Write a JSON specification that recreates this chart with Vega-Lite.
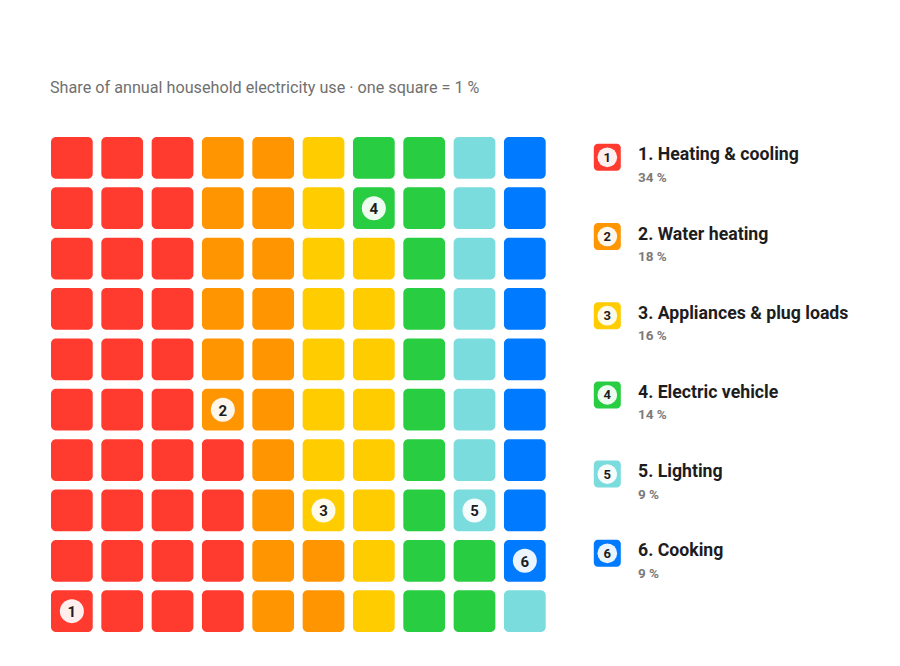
{
  "$schema": "https://vega.github.io/schema/vega-lite/v6.json",
  "width": 830,
  "height": 495,
  "autosize": {"type": "none"},
  "padding": {"left": 51, "top": 137, "right": 19, "bottom": 34},
  "background": "white",
  "title": {
    "text": "Share of annual household electricity use · one square = 1 %",
    "anchor": "start",
    "frame": "group",
    "orient": "top",
    "baseline": "alphabetic",
    "offset": 28,
    "dx": -1,
    "font": "Roboto",
    "fontSize": 16.2,
    "fontWeight": "normal",
    "color": "#707070"
  },
  "datasets": {
    "cells": [
      {"col": 1, "row": 10, "cat": 1, "badge": "1"}, {"col": 1, "row": 9, "cat": 1}, {"col": 1, "row": 8, "cat": 1}, {"col": 1, "row": 7, "cat": 1}, {"col": 1, "row": 6, "cat": 1}, {"col": 1, "row": 5, "cat": 1}, {"col": 1, "row": 4, "cat": 1}, {"col": 1, "row": 3, "cat": 1}, {"col": 1, "row": 2, "cat": 1}, {"col": 1, "row": 1, "cat": 1},
      {"col": 2, "row": 10, "cat": 1}, {"col": 2, "row": 9, "cat": 1}, {"col": 2, "row": 8, "cat": 1}, {"col": 2, "row": 7, "cat": 1}, {"col": 2, "row": 6, "cat": 1}, {"col": 2, "row": 5, "cat": 1}, {"col": 2, "row": 4, "cat": 1}, {"col": 2, "row": 3, "cat": 1}, {"col": 2, "row": 2, "cat": 1}, {"col": 2, "row": 1, "cat": 1},
      {"col": 3, "row": 10, "cat": 1}, {"col": 3, "row": 9, "cat": 1}, {"col": 3, "row": 8, "cat": 1}, {"col": 3, "row": 7, "cat": 1}, {"col": 3, "row": 6, "cat": 1}, {"col": 3, "row": 5, "cat": 1}, {"col": 3, "row": 4, "cat": 1}, {"col": 3, "row": 3, "cat": 1}, {"col": 3, "row": 2, "cat": 1}, {"col": 3, "row": 1, "cat": 1},
      {"col": 4, "row": 10, "cat": 1}, {"col": 4, "row": 9, "cat": 1}, {"col": 4, "row": 8, "cat": 1}, {"col": 4, "row": 7, "cat": 1}, {"col": 4, "row": 6, "cat": 2, "badge": "2"}, {"col": 4, "row": 5, "cat": 2}, {"col": 4, "row": 4, "cat": 2}, {"col": 4, "row": 3, "cat": 2}, {"col": 4, "row": 2, "cat": 2}, {"col": 4, "row": 1, "cat": 2},
      {"col": 5, "row": 10, "cat": 2}, {"col": 5, "row": 9, "cat": 2}, {"col": 5, "row": 8, "cat": 2}, {"col": 5, "row": 7, "cat": 2}, {"col": 5, "row": 6, "cat": 2}, {"col": 5, "row": 5, "cat": 2}, {"col": 5, "row": 4, "cat": 2}, {"col": 5, "row": 3, "cat": 2}, {"col": 5, "row": 2, "cat": 2}, {"col": 5, "row": 1, "cat": 2},
      {"col": 6, "row": 10, "cat": 2}, {"col": 6, "row": 9, "cat": 2}, {"col": 6, "row": 8, "cat": 3, "badge": "3"}, {"col": 6, "row": 7, "cat": 3}, {"col": 6, "row": 6, "cat": 3}, {"col": 6, "row": 5, "cat": 3}, {"col": 6, "row": 4, "cat": 3}, {"col": 6, "row": 3, "cat": 3}, {"col": 6, "row": 2, "cat": 3}, {"col": 6, "row": 1, "cat": 3},
      {"col": 7, "row": 10, "cat": 3}, {"col": 7, "row": 9, "cat": 3}, {"col": 7, "row": 8, "cat": 3}, {"col": 7, "row": 7, "cat": 3}, {"col": 7, "row": 6, "cat": 3}, {"col": 7, "row": 5, "cat": 3}, {"col": 7, "row": 4, "cat": 3}, {"col": 7, "row": 3, "cat": 3}, {"col": 7, "row": 2, "cat": 4, "badge": "4"}, {"col": 7, "row": 1, "cat": 4},
      {"col": 8, "row": 10, "cat": 4}, {"col": 8, "row": 9, "cat": 4}, {"col": 8, "row": 8, "cat": 4}, {"col": 8, "row": 7, "cat": 4}, {"col": 8, "row": 6, "cat": 4}, {"col": 8, "row": 5, "cat": 4}, {"col": 8, "row": 4, "cat": 4}, {"col": 8, "row": 3, "cat": 4}, {"col": 8, "row": 2, "cat": 4}, {"col": 8, "row": 1, "cat": 4},
      {"col": 9, "row": 10, "cat": 4}, {"col": 9, "row": 9, "cat": 4}, {"col": 9, "row": 8, "cat": 5, "badge": "5"}, {"col": 9, "row": 7, "cat": 5}, {"col": 9, "row": 6, "cat": 5}, {"col": 9, "row": 5, "cat": 5}, {"col": 9, "row": 4, "cat": 5}, {"col": 9, "row": 3, "cat": 5}, {"col": 9, "row": 2, "cat": 5}, {"col": 9, "row": 1, "cat": 5},
      {"col": 10, "row": 10, "cat": 5}, {"col": 10, "row": 9, "cat": 6, "badge": "6"}, {"col": 10, "row": 8, "cat": 6}, {"col": 10, "row": 7, "cat": 6}, {"col": 10, "row": 6, "cat": 6}, {"col": 10, "row": 5, "cat": 6}, {"col": 10, "row": 4, "cat": 6}, {"col": 10, "row": 3, "cat": 6}, {"col": 10, "row": 2, "cat": 6}, {"col": 10, "row": 1, "cat": 6}
    ],
    "legend": [
      {"cat": 1, "num": "1", "name": "1. Heating & cooling", "share": "34 %"},
      {"cat": 2, "num": "2", "name": "2. Water heating", "share": "18 %"},
      {"cat": 3, "num": "3", "name": "3. Appliances & plug loads", "share": "16 %"},
      {"cat": 4, "num": "4", "name": "4. Electric vehicle", "share": "14 %"},
      {"cat": 5, "num": "5", "name": "5. Lighting", "share": "9 %"},
      {"cat": 6, "num": "6", "name": "6. Cooking", "share": "9 %"}
    ]
  },
  "layer": [
    {
      "data": {"name": "cells"},
      "encoding": {
        "x": {"field": "col", "type": "ordinal", "axis": null,
              "scale": {"type": "band", "domain": [1,2,3,4,5,6,7,8,9,10], "range": [0, 494.7], "paddingInner": 0.171, "paddingOuter": 0}},
        "y": {"field": "row", "type": "ordinal", "axis": null,
              "scale": {"type": "band", "domain": [1,2,3,4,5,6,7,8,9,10], "range": [0, 495], "paddingInner": 0.171, "paddingOuter": 0}}
      },
      "layer": [
        {
          "mark": {"type": "rect", "cornerRadius": 5},
          "encoding": {
            "color": {"field": "cat", "type": "nominal", "legend": null,
                      "scale": {"domain": [1,2,3,4,5,6], "range": ["#FF3B30", "#FF9500", "#FFCC00", "#28CD41", "#7ADCDD", "#007AFF"]}}
          }
        },
        {
          "transform": [{"filter": "datum.badge"}],
          "mark": {"type": "point", "shape": "circle", "filled": true, "size": 576, "color": "white", "opacity": 0.92}
        },
        {
          "transform": [{"filter": "datum.badge"}],
          "mark": {"type": "text", "font": "Roboto", "fontSize": 15, "fontWeight": "bold", "color": "#1d1d1f", "align": "center", "baseline": "middle", "dy": 1},
          "encoding": {"text": {"field": "badge"}}
        }
      ]
    },
    {
      "data": {"name": "legend"},
      "encoding": {
        "y": {"field": "cat", "type": "ordinal", "axis": null,
              "scale": {"type": "band", "domain": [1,2,3,4,5,6], "range": [6.8, 429.8], "paddingInner": 0.659, "paddingOuter": 0}}
      },
      "layer": [
        {
          "mark": {"type": "rect", "cornerRadius": 4},
          "encoding": {
            "x": {"value": 542.8},
            "x2": {"value": 569.8},
            "color": {"field": "cat", "type": "nominal", "legend": null}
          }
        },
        {
          "mark": {"type": "point", "shape": "circle", "filled": true, "size": 388, "color": "white", "opacity": 0.92},
          "encoding": {"x": {"value": 556.3}}
        },
        {
          "mark": {"type": "text", "font": "Roboto", "fontSize": 13, "fontWeight": "bold", "color": "#1d1d1f", "align": "center", "baseline": "middle", "dy": 0.5},
          "encoding": {"x": {"value": 556.3}, "text": {"field": "num"}}
        },
        {
          "mark": {"type": "text", "font": "Roboto", "fontSize": 17.7, "fontWeight": "bold", "color": "#1d1d1f", "align": "left", "baseline": "alphabetic", "dy": 3},
          "encoding": {"x": {"value": 587}, "text": {"field": "name"}}
        },
        {
          "mark": {"type": "text", "font": "Roboto", "fontSize": 13.5, "fontWeight": "bold", "color": "#7a7a7a", "align": "left", "baseline": "alphabetic", "dy": 24.5},
          "encoding": {"x": {"value": 587}, "text": {"field": "share"}}
        }
      ]
    }
  ],
  "resolve": {"scale": {"x": "independent", "y": "independent"}},
  "config": {"view": {"stroke": null}, "font": "Roboto"}
}
